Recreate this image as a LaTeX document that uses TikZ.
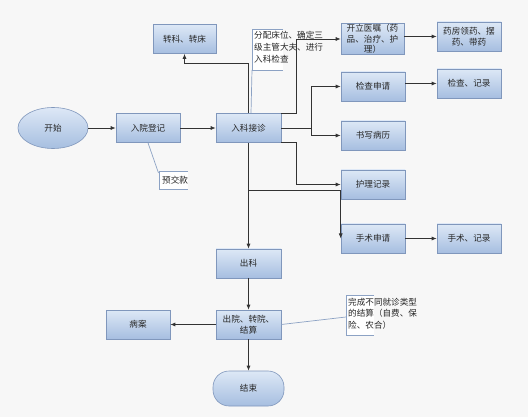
\documentclass[tikz,border=0pt]{standalone}
\usepackage{fontspec}
\newfontfamily\cjk{Noto Sans CJK SC}
\usetikzlibrary{arrows.meta,shapes.geometric}
\definecolor{bg}{HTML}{F7F7F7}
\definecolor{btop}{HTML}{DDE8F6}
\definecolor{bbot}{HTML}{A6BEE0}
\definecolor{bord}{HTML}{8097BC}
\definecolor{lc}{HTML}{333333}
\definecolor{cc}{HTML}{8CA2C4}
\begin{document}
\begin{tikzpicture}[x=1pt,y=-1pt,
  box/.style={draw=bord, line width=0.6pt, top color=btop, bottom color=bbot,
    minimum width=64pt, minimum height=29pt, inner sep=1pt, align=center,
    font=\cjk\fontsize{8.6}{10.5}\selectfont, text=black!85},
  conn/.style={draw=lc, line width=0.7pt, -{Latex[length=5pt,width=4pt]}},
  plain/.style={draw=lc, line width=0.7pt},
  callout/.style={draw=cc, line width=0.7pt},
  bracket/.style={draw=cc, line width=0.7pt},
  ntext/.style={font=\cjk\fontsize{8.6}{11.8}\selectfont, text=black!85, align=left, inner sep=0pt, anchor=north west}
]
\fill[bg] (0,0) rectangle (528,417);
\useasboundingbox (0,0) rectangle (528,417);

% nodes
\node[box, ellipse, minimum width=70pt, minimum height=41pt] (start) at (53,128) {开始};
\node[box] (reg) at (148,128) {入院登记};
\node[box, minimum width=65pt] (adm) at (248.5,128) {入科接诊};
\node[box, minimum width=63pt] (transfer) at (184.5,39) {转科、转床};
\node[box, minimum width=63pt] (order) at (372.5,39) {开立医嘱（药\\品、治疗、护\\理）};
\node[box] (pharm) at (469,36.5) {药房领药、摆\\药、带药};
\node[box] (check) at (373,86.5) {检查申请};
\node[box] (checkrec) at (469,83.5) {检查、记录};
\node[box] (record) at (373,135.5) {书写病历};
\node[box] (nursing) at (373,184.5) {护理记录};
\node[box] (surgery) at (373,238.5) {手术申请};
\node[box] (surgrec) at (469,238.5) {手术、记录};
\node[box, minimum width=65pt] (discharge) at (248.5,263.5) {出科};
\node[box, minimum width=65pt] (settle) at (248.5,324.5) {出院、转院、\\结算};
\node[box] (archive) at (138,324.5) {病案};
\node[box, rounded corners=16pt, minimum width=71pt, minimum height=35pt] (end) at (248.5,388.5) {结束};

% notes
\fill[white] (159,171) rectangle (188,189);
\draw[bracket] (188,171) -- (159,171) -- (159,189) -- (188,189);
\node[ntext, anchor=west] (note1) at (162,180) {预交款};

\fill[white] (252,29) rectangle (283,70);
\draw[bracket] (283,29) -- (252,29) -- (252,70) -- (283,70);
\node[ntext] (note2) at (254,31.5) {分配床位、确定三\\级主管大夫、进行\\入科检查};

\fill[white] (346,295) rectangle (374,335);
\draw[bracket] (374,295) -- (346,295) -- (346,335) -- (374,335);
\node[ntext] (note3) at (348,297.5) {完成不同就诊类型\\的结算（自费、保\\险、农合）};

% callouts
\draw[callout] (reg.south) -- (158.5,173);
\draw[callout] ([xshift=2.5pt]adm.north) -- (252,70);
\draw[callout] (settle.east) -- (346,317);

% connectors
\draw[conn] (start) -- (reg);
\draw[conn] (reg) -- (adm);
\draw[conn] (adm.north) -- ++(0,-50) -| (transfer.south);
\draw[conn] (adm.north east) -- ++(15,0) |- (order.west);
\draw[plain] (adm.east) -- (311,128) coordinate (j1);
\draw[conn] (j1) |- (check.west);
\draw[conn] (j1) |- (record.west);
\draw[conn] (adm.south east) -- ++(15,0) |- (nursing.west);
\draw[conn] (adm.south) -- (discharge.north);
\coordinate (j2) at (248.5,190);
\draw[conn] (j2) -| (surgery.west);
\draw[conn] (order.east |- pharm.west) -- (pharm.west);
\draw[conn] (check.east |- checkrec.west) -- (checkrec.west);
\draw[conn] (surgery) -- (surgrec);
\draw[conn] (discharge) -- (settle);
\draw[conn] (settle) -- (archive);
\draw[conn] (settle) -- (end);
\end{tikzpicture}
\end{document}
